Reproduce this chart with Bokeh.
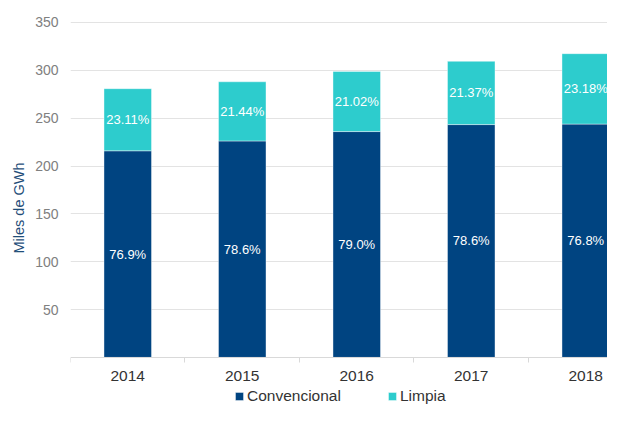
from bokeh.plotting import figure
from bokeh.models import ColumnDataSource, FixedTicker, Range1d, Legend, LegendItem, LabelSet
from bokeh.core.properties import value
from bokeh.embed import file_html
from bokeh.resources import INLINE

years = ["2014", "2015", "2016", "2017", "2018"]
convencional = [215.9, 226.2, 236.0, 243.3, 243.8]
limpia = [64.9, 61.8, 62.8, 66.1, 73.6]
conv_labels = ["76.9%", "78.6%", "79.0%", "78.6%", "76.8%"]
limpia_labels = ["23.11%", "21.44%", "21.02%", "21.37%", "23.18%"]
y_ticks = [50, 100, 150, 200, 250, 300, 350]

NAVY = "#004481"
AQUA = "#2DCCCD"
FONT = "Liberation Sans"

xs = list(range(len(years)))
top_total = [c + l for c, l in zip(convencional, limpia)]
src = ColumnDataSource(dict(
    x=xs, conv=convencional, total=top_total,
    conv_mid=[c / 2 for c in convencional],
    limp_mid=[c + l / 2 for c, l in zip(convencional, limpia)],
    conv_lab=conv_labels, limp_lab=limpia_labels,
))

p = figure(width=607, height=405, output_backend="svg", toolbar_location=None,
           x_range=Range1d(-0.5, 4.19), y_range=Range1d(-50.25, 362.5),
           min_border_left=70, min_border_top=10, min_border_right=0, min_border_bottom=0)
p.outline_line_color = None
p.background_fill_color = "white"
p.border_fill_color = "white"

r1 = p.vbar(x="x", width=0.415, bottom=0, top="conv", source=src,
            fill_color=NAVY, line_color="white", line_alpha=0.4, line_width=1)
r2 = p.vbar(x="x", width=0.415, bottom="conv", top="total", source=src,
            fill_color=AQUA, line_color="white", line_alpha=0.4, line_width=1)

for col, ycol in (("conv_lab", "conv_mid"), ("limp_lab", "limp_mid")):
    p.add_layout(LabelSet(x="x", y=ycol, text=col, source=src, text_align="center",
                          text_baseline="middle", text_color="white",
                          text_font=value(FONT), text_font_size="13px"))

# x axis (placed at y = 0 inside the frame)
xa = p.xaxis[0]
xa.fixed_location = 0
xa.ticker = FixedTicker(ticks=xs, minor_ticks=[-0.5, 0.5, 1.5, 2.5, 3.5])
xa.major_label_overrides = {i: y for i, y in enumerate(years)}
xa.major_tick_out = 0
xa.major_tick_in = 0
xa.minor_tick_out = 5
xa.minor_tick_in = 0
xa.minor_tick_line_color = "#d9d9d9"
xa.axis_line_color = "#d9d9d9"
xa.major_label_text_font = FONT
xa.major_label_text_font_size = "15.5px"
xa.major_label_text_color = "#333333"
xa.major_label_standoff = 9

# y axis
ya = p.yaxis[0]
ya.ticker = FixedTicker(ticks=y_ticks)
ya.axis_line_color = None
ya.major_tick_out = 0
ya.major_tick_in = 0
ya.minor_tick_out = 0
ya.minor_tick_in = 0
ya.major_label_text_font = FONT
ya.major_label_text_font_size = "14px"
ya.major_label_text_color = "#808080"
ya.major_label_standoff = 12
ya.axis_label = "Miles de GWh"
ya.axis_label_text_font = FONT
ya.axis_label_text_font_size = "14.5px"
ya.axis_label_text_font_style = "normal"
ya.axis_label_text_color = "#1F4E79"
ya.axis_label_standoff = 5

p.xgrid.grid_line_color = None
p.ygrid.grid_line_color = "#e3e3e3"
p.ygrid.ticker = FixedTicker(ticks=y_ticks)

legend = Legend(items=[LegendItem(label="Convencional", renderers=[r1]),
                       LegendItem(label="Limpia", renderers=[r2])],
                orientation="horizontal", location=(164, 0))
legend.label_text_font = FONT
legend.label_text_font_size = "15.5px"
legend.label_text_color = "#333333"
legend.label_height = 15
legend.glyph_width = 10
legend.glyph_height = 10
legend.label_standoff = 3
legend.spacing = 46
legend.padding = 0
legend.margin = 0
legend.border_line_color = None
legend.background_fill_alpha = 0
p.add_layout(legend, "center")

open("out.html", "w").write(file_html(p, INLINE))
